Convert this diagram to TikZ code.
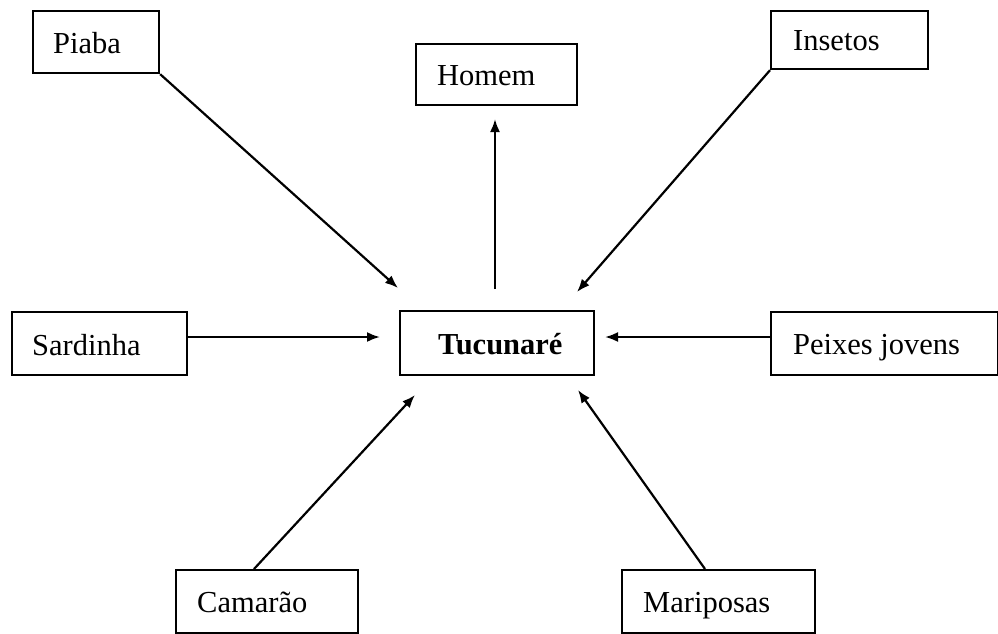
\documentclass[tikz,border=0pt]{standalone}
\usepackage{fontspec}
\setmainfont{Liberation Serif}
\usetikzlibrary{arrows.meta}
\tikzset{
  box/.style={draw, line width=2.2pt, rectangle, inner sep=0pt, anchor=north west},
  lbl/.style={anchor=base west, inner sep=0pt, font=\fontsize{30.5}{36}\selectfont},
  arr/.style={line width=2.2pt, -{Latex[length=13pt,width=10pt]}}
}
\begin{document}
\begin{tikzpicture}[x=1pt,y=-1pt]
\useasboundingbox (0,0) rectangle (998,633);
\clip (0,0) rectangle (998,633);
% boxes
\node[box, minimum width=126pt, minimum height=62pt] (piaba) at (32,10) {};
\node[box, minimum width=161pt, minimum height=61pt] (homem) at (415,43) {};
\node[box, minimum width=157pt, minimum height=58pt] (insetos) at (770,10) {};
\node[box, minimum width=175pt, minimum height=63pt] (sardinha) at (11,311) {};
\node[box, minimum width=194pt, minimum height=64pt] (tucunare) at (399,310) {};
\node[box, minimum width=227pt, minimum height=63pt] (peixes) at (770,311) {};
\node[box, minimum width=182pt, minimum height=63pt] (camarao) at (175,569) {};
\node[box, minimum width=193pt, minimum height=63pt] (mariposas) at (621,569) {};
% labels
\node[lbl] (tpiaba) at (53,53) {Piaba};
\node[lbl] (thomem) at (437,85) {Homem};
\node[lbl] (tinsetos) at (793,50) {Insetos};
\node[lbl] (tsardinha) at (32,355) {Sardinha};
\node[lbl] (ttucunare) at (438,354) {\bfseries Tucunaré};
\node[lbl] (tpeixes) at (793,354) {Peixes jovens};
\node[lbl] (tcamarao) at (197,612) {Camarão};
\node[lbl] (tmariposas) at (643,612) {Mariposas};
% connector ends
\coordinate (e1) at (398,288);
\coordinate (s2) at (495,289);
\coordinate (e2) at (495,119);
\coordinate (e3) at (577,292);
\coordinate (s4) at (186,337);
\coordinate (e4) at (380,337);
\coordinate (s5) at (770,337);
\coordinate (e5) at (605,337);
\coordinate (s6) at (254,569);
\coordinate (e6) at (415,395);
\coordinate (s7) at (705,569);
\coordinate (e7) at (578,390);
% connectors
\draw[arr] (piaba.south east) -- (e1);
\draw[arr] (s2) -- (e2);
\draw[arr] (insetos.south west) -- (e3);
\draw[arr] (s4) -- (e4);
\draw[arr] (s5) -- (e5);
\draw[arr] (s6) -- (e6);
\draw[arr] (s7) -- (e7);
\end{tikzpicture}
\end{document}
